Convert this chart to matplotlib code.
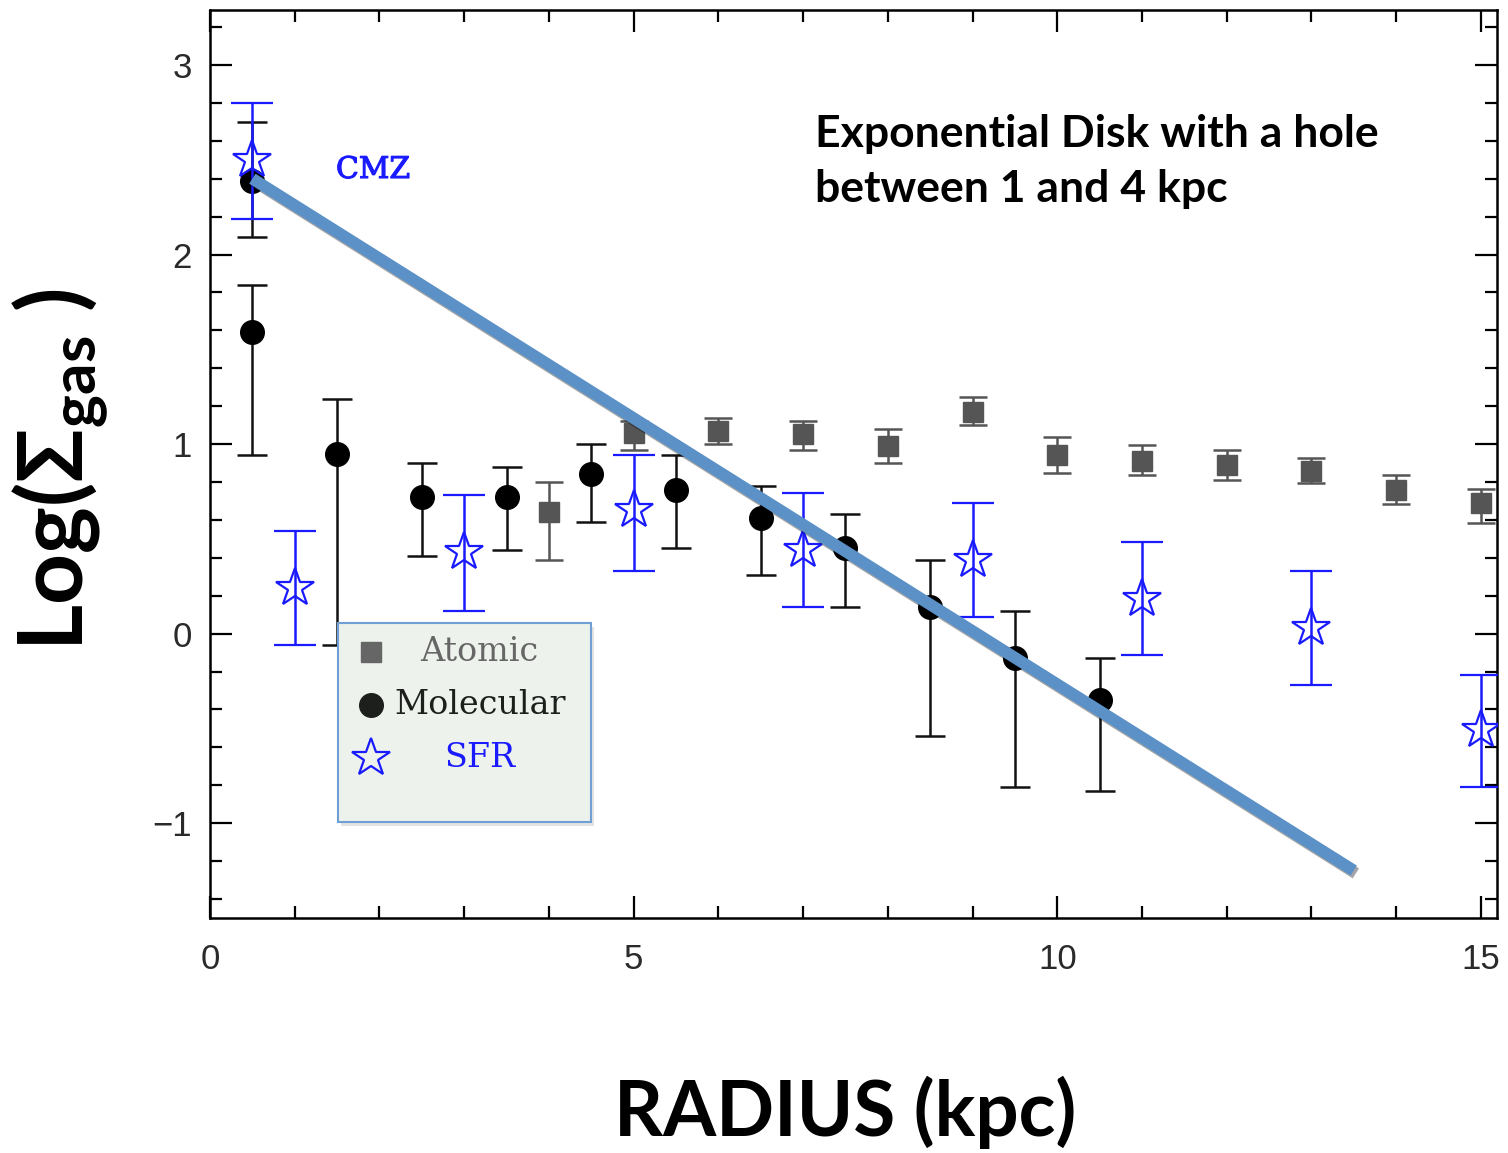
import matplotlib
matplotlib.use("Agg")
import matplotlib.pyplot as plt
import matplotlib.patheffects as pe
from matplotlib.patches import Rectangle
from matplotlib.ticker import MultipleLocator

# ---------------- data ----------------
atomic_r = [4, 5, 6, 7, 8, 9, 10, 11, 12, 13, 14, 15]
atomic_y = [0.64, 1.06, 1.07, 1.055, 0.99, 1.17, 0.945, 0.91, 0.89, 0.86, 0.76, 0.69]
atomic_lo = [0.25, 0.09, 0.07, 0.085, 0.09, 0.07, 0.10, 0.075, 0.08, 0.065, 0.075, 0.105]
atomic_hi = [0.16, 0.06, 0.07, 0.065, 0.09, 0.08, 0.09, 0.085, 0.08, 0.065, 0.075, 0.075]

mol_r = [0.5, 0.5, 1.5, 2.5, 3.5, 4.5, 5.5, 6.5, 7.5, 8.5, 9.5, 10.5]
mol_y = [2.39, 1.59, 0.95, 0.72, 0.72, 0.84, 0.76, 0.61, 0.45, 0.14, -0.13, -0.35]
mol_lo = [0.30, 0.65, 1.01, 0.31, 0.28, 0.25, 0.31, 0.30, 0.31, 0.68, 0.68, 0.48]
mol_hi = [0.31, 0.25, 0.29, 0.18, 0.16, 0.16, 0.18, 0.17, 0.18, 0.25, 0.25, 0.22]

sfr_r = [0.5, 1, 3, 5, 7, 9, 11, 13, 15]
sfr_y = [2.50, 0.24, 0.43, 0.65, 0.44, 0.39, 0.185, 0.03, -0.51]
sfr_lo = [0.31, 0.30, 0.31, 0.32, 0.30, 0.30, 0.30, 0.30, 0.30]
sfr_hi = [0.30, 0.30, 0.30, 0.29, 0.30, 0.30, 0.30, 0.30, 0.29]

fit_r = [0.5, 13.5]
fit_y = [2.40, -1.25]

x_ticks = [0, 5, 10, 15]
x_labels = ["0", "5", "10", "15"]
y_ticks = [-1, 0, 1, 2, 3]
y_labels = ["\u22121", "0", "1", "2", "3"]

legend_labels = ["Atomic", "Molecular", "SFR"]

# ---------------- figure ----------------
plt.rcParams["mathtext.fontset"] = "custom"
plt.rcParams["mathtext.rm"] = "Lato:bold"
plt.rcParams["mathtext.it"] = "Lato:bold"
plt.rcParams["mathtext.bf"] = "Lato:bold"

fig = plt.figure(figsize=(15.08, 11.53), dpi=100)
ax = fig.add_axes([210/1508, 1-918/1153, (1497-210)/1508, (918-10)/1153])
ax.set_xlim(0, 15.19)
ax.set_ylim(-1.50, 3.29)

blue = "#1a1aff"
grey = "#555555"

ax.errorbar(atomic_r, atomic_y, yerr=[atomic_lo, atomic_hi], fmt="s", ms=15,
            color=grey, mfc=grey, mec=grey, ecolor=grey, elinewidth=1.8,
            capsize=10, capthick=1.8, zorder=3)
ax.errorbar(mol_r, mol_y, yerr=[mol_lo, mol_hi], fmt="o", ms=17,
            color="black", ecolor="#111111", elinewidth=1.8,
            capsize=10.5, capthick=1.8, zorder=3)
ax.errorbar(sfr_r, sfr_y, yerr=[sfr_lo, sfr_hi], fmt="*", ms=29,
            mfc="none", mec=blue, mew=1.6, ecolor=blue, elinewidth=1.8,
            capsize=15, capthick=1.8, zorder=4)

ax.plot(fit_r, fit_y, color="#5b91c6", lw=8.5, solid_capstyle="butt", zorder=6,
        path_effects=[pe.SimpleLineShadow(offset=(1.5, -2), shadow_color="black", alpha=0.35),
                      pe.Normal()])

# ticks
ax.set_xticks(x_ticks)
ax.set_xticklabels(x_labels)
ax.set_yticks(y_ticks)
ax.set_yticklabels(y_labels)
ax.xaxis.set_minor_locator(MultipleLocator(1))
ax.yaxis.set_minor_locator(MultipleLocator(0.2))
ax.tick_params(which="both", direction="in", top=True, right=True, width=1.6, color="black")
ax.tick_params(which="major", length=16)
ax.tick_params(which="minor", length=8.5)
ax.tick_params(axis="x", which="major", pad=18)
ax.tick_params(axis="y", which="major", pad=13)
for lab in ax.get_xticklabels() + ax.get_yticklabels():
    lab.set_fontfamily("Liberation Sans")
    lab.set_fontsize(25)
    lab.set_color("#2a2a2a")
for sp in ax.spines.values():
    sp.set_linewidth(1.8)

# texts
fig.text(336/1508, 1-170/1153, "CMZ", ha="left", va="center", fontsize=21.5,
         family="DejaVu Serif", color=blue,
         path_effects=[pe.withStroke(linewidth=0.8, foreground=blue)])
fig.text(815/1508, 1-147/1153, "Exponential Disk with a hole",
         ha="left", va="baseline", fontsize=32, family="Lato", fontweight="bold")
fig.text(815/1508, 1-202/1153, "between 1 and 4 kpc",
         ha="left", va="baseline", fontsize=32, family="Lato", fontweight="bold")
fig.text(845/1508, 1-1112/1153, "RADIUS (kpc)", ha="center", va="center",
         fontsize=55, family="Lato", fontweight="bold")
fig.text(60/1508, 1-470/1153, r"Log($\Sigma_{\mathrm{gas}}$ )", ha="center", va="center",
         rotation=90, fontsize=64, family="Lato", fontweight="bold")

# legend box (manual)
ax.add_patch(Rectangle((0.0995, 0.1057), 0.1966, 0.2193, transform=ax.transAxes,
                       facecolor="#edf2ec", edgecolor="#6f9fd4", lw=1.5, zorder=8,
                       path_effects=[pe.SimplePatchShadow(offset=(2, -3), alpha=0.15),
                                     pe.Normal()]))
ax.plot([0.125], [0.293], "s", ms=14, color="#666666", transform=ax.transAxes, zorder=9, clip_on=False)
ax.plot([0.125], [0.2346], "o", ms=17, color="#1c1f1c", transform=ax.transAxes, zorder=9, clip_on=False)
ax.plot([0.125], [0.176], "*", ms=29, mfc="none", mec=blue, mew=1.6, transform=ax.transAxes, zorder=9, clip_on=False)
ax.text(0.209, 0.293, legend_labels[0], transform=ax.transAxes, ha="center", va="center",
        fontsize=24, family="DejaVu Serif", color="#666666", zorder=9)
ax.text(0.2095, 0.2346, legend_labels[1], transform=ax.transAxes, ha="center", va="center",
        fontsize=24, family="DejaVu Serif", color="#1c1f1c", zorder=9)
ax.text(0.2095, 0.176, legend_labels[2], transform=ax.transAxes, ha="center", va="center",
        fontsize=24, family="DejaVu Serif", color=blue, zorder=9)

fig.savefig("out.png", dpi=100)
